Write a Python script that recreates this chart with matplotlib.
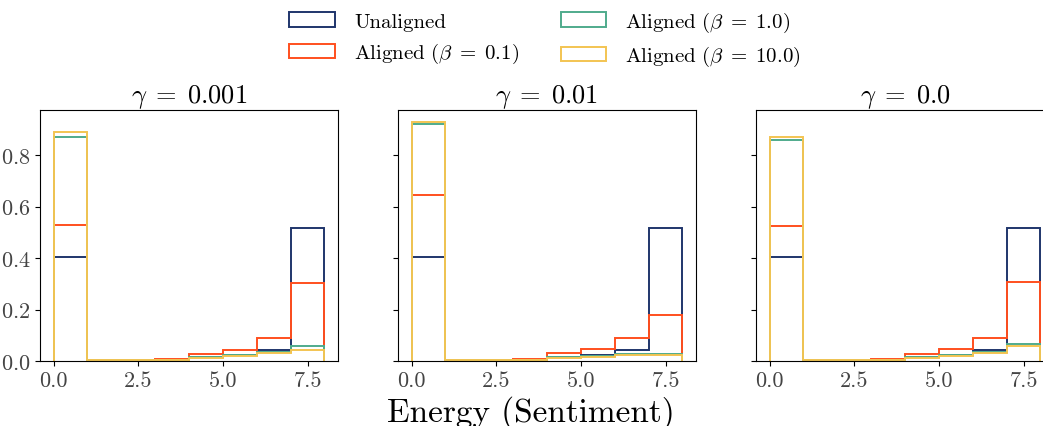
"""
energy histograms, aligned vs unaligned, three gamma settings
"""
import numpy as np
import matplotlib
matplotlib.use("Agg")
import matplotlib.pyplot as plt
from matplotlib.patches import Patch

plt.rcParams["font.family"] = "serif"
plt.rcParams["font.serif"] = ["cmr10"]
plt.rcParams["mathtext.fontset"] = "cm"
plt.rcParams["axes.formatter.use_mathtext"] = True

edges = np.arange(0, 9)
gammas = ["0.001", "0.01", "0.0"]
labels = ["Unaligned", r"Aligned ($\beta \;=\; 0.1$)", r"Aligned ($\beta \;=\; 1.0$)", r"Aligned ($\beta \;=\; 10.0$)"]
colors = ["#1f356b", "#ff4f1e", "#4fab8c", "#f3c452"]

# density per bin [0,1) ... [7,8)
unaligned = [
	[0.406, 0.002, 0.002, 0.003, 0.014, 0.025, 0.041, 0.516],
	[0.406, 0.002, 0.002, 0.003, 0.014, 0.022, 0.041, 0.516],
	[0.406, 0.002, 0.002, 0.003, 0.015, 0.022, 0.041, 0.516],
]
beta01 = [
	[0.530, 0.002, 0.002, 0.008, 0.027, 0.043, 0.089, 0.305],
	[0.646, 0.002, 0.002, 0.008, 0.032, 0.048, 0.088, 0.177],
	[0.526, 0.002, 0.002, 0.008, 0.028, 0.045, 0.088, 0.309],
]
beta1 = [
	[0.870, 0.002, 0.002, 0.003, 0.015, 0.025, 0.035, 0.057],
	[0.921, 0.002, 0.002, 0.003, 0.014, 0.018, 0.027, 0.027],
	[0.859, 0.002, 0.002, 0.003, 0.015, 0.022, 0.035, 0.065],
]
beta10 = [
	[0.889, 0.002, 0.002, 0.003, 0.010, 0.019, 0.032, 0.041],
	[0.928, 0.002, 0.002, 0.003, 0.012, 0.016, 0.023, 0.022],
	[0.872, 0.002, 0.002, 0.003, 0.010, 0.018, 0.032, 0.059],
]

fig = plt.figure(figsize=(10.43, 4.27), dpi=100)
W, H = 1043, 427
axes = []
for k, left in enumerate([40, 398, 756]):
	ax = fig.add_axes([left / W, 65 / H, 298 / W, 251 / H], sharey=axes[0] if axes else None)
	axes.append(ax)

for k, ax in enumerate(axes):
	series = [unaligned[k], beta01[k], beta1[k], beta10[k]]
	for vals, c, lab in zip(series, colors, labels):
		ax.stairs(vals, edges, color=c, linewidth=1.4, label=lab)
	ax.set_title(rf"$\gamma \;=\; {gammas[k]}$", fontsize=19, pad=4)
	ax.tick_params(labelsize=16, labelcolor="#444444")
	ax.set_xticks([0, 2.5, 5, 7.5])
	ax.set_xticklabels(["0.0", "2.5", "5.0", "7.5"])
	if k > 0:
		ax.tick_params(labelleft=False)

axes[0].set_ylim(0, 0.976)
axes[0].set_yticks([0, 0.2, 0.4, 0.6, 0.8])

fig.text(530.5 / W, 5 / H, "Energy (Sentiment)", fontsize=24, ha="center", va="baseline")

phandles = [Patch(facecolor="none", edgecolor=c, linewidth=1.4) for c in colors]
fig.legend(phandles, labels, loc="upper center", bbox_to_anchor=(545 / W, 1.019), ncol=2,
	frameon=False, fontsize=15, handlelength=2.2, handleheight=0.7, handletextpad=0.9,
	columnspacing=2.0, labelspacing=0.5)

fig.savefig("out.png", dpi=100)
